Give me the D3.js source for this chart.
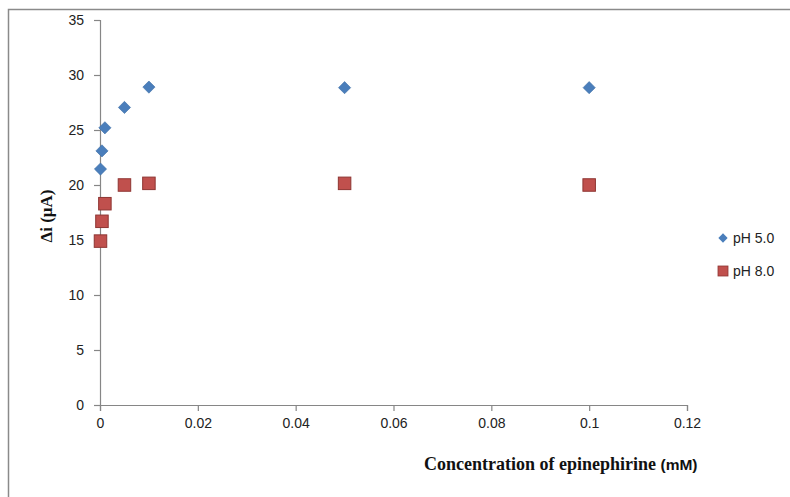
<!DOCTYPE html>
<html>
<head>
<meta charset="utf-8">
<script src="https://cdn.jsdelivr.net/npm/d3@7"></script>
<style>
  html, body { margin: 0; padding: 0; background: #fff; }
  svg { display: block; }
  .tick text { font-family: "Liberation Sans", Arial, sans-serif; font-size: 14px; fill: #222; }
</style>
</head>
<body>
<svg id="chart" width="790" height="497"></svg>
<script>
// Epinephrine concentration (mM) and current response (µA)
const concentration = [0.0001, 0.0004, 0.001, 0.005, 0.01, 0.05, 0.1];
const ph5Values = [21.45, 23.1, 25.2, 27.05, 28.9, 28.85, 28.85];
const ph8Values = [14.9, 16.7, 18.3, 20.0, 20.15, 20.15, 20.0];
const seriesNames = ["pH 5.0", "pH 8.0"];
const xTickValues = [0, 0.02, 0.04, 0.06, 0.08, 0.1, 0.12];
const yTickValues = [0, 5, 10, 15, 20, 25, 30, 35];

const svg = d3.select("#chart");

// chart frame
svg.append("path")
  .attr("d", "M8.5,497 L8.5,9.5 L790,9.5")
  .attr("fill", "none")
  .attr("stroke", "#8a8a8a")
  .attr("stroke-width", 1.5);

const x = d3.scaleLinear().domain([0, 0.12]).range([100, 687]);
const y = d3.scaleLinear().domain([0, 35]).range([405, 20]);

const axisColor = "#868686";

const xAxis = svg.append("g")
  .attr("transform", `translate(0,${y(0)})`)
  .call(d3.axisBottom(x).tickValues(xTickValues).tickSize(6).tickPadding(7)
    .tickFormat(d => String(+d.toFixed(2))));
const yAxis = svg.append("g")
  .attr("transform", `translate(${x(0)},0)`)
  .call(d3.axisLeft(y).tickValues(yTickValues).tickSize(6).tickPadding(10));

[xAxis, yAxis].forEach(g => {
  g.select(".domain").attr("stroke", axisColor).attr("stroke-width", 1.2);
  g.selectAll(".tick line").attr("stroke", axisColor).attr("stroke-width", 1.2);
});

const diamond = d3.symbol().type(d3.symbolDiamond2);
const blue = "#4A7EBB";
const red = "#C0504D";

const pts5 = concentration.map((c, i) => [c, ph5Values[i]]);
const pts8 = concentration.map((c, i) => [c, ph8Values[i]]);

// pH 5.0 series (diamonds)
svg.append("g").selectAll("path")
  .data(pts5)
  .join("path")
  .attr("transform", d => `translate(${x(d[0])},${y(d[1])})`)
  .attr("d", diamond.size(95)())
  .attr("fill", blue)
  .attr("stroke", "#3d6da5")
  .attr("stroke-width", 0.6);

// pH 8.0 series (squares)
const sq = 12.5;
svg.append("g").selectAll("rect")
  .data(pts8)
  .join("rect")
  .attr("x", d => x(d[0]) - sq / 2)
  .attr("y", d => y(d[1]) - sq / 2)
  .attr("width", sq)
  .attr("height", sq)
  .attr("fill", red)
  .attr("stroke", "#8e3532")
  .attr("stroke-width", 1);

// legend
const legend = svg.append("g");
const legendY = [238, 271];
legend.append("path")
  .attr("transform", `translate(723,${legendY[0]})`)
  .attr("d", diamond.size(55)())
  .attr("fill", blue);
legend.append("rect")
  .attr("x", 718).attr("y", legendY[1] - 5)
  .attr("width", 10).attr("height", 10)
  .attr("fill", red).attr("stroke", "#8e3532").attr("stroke-width", 0.8);
legend.selectAll("text")
  .data(seriesNames)
  .join("text")
  .attr("x", 733)
  .attr("y", (d, i) => legendY[i])
  .attr("dy", "0.36em")
  .attr("font-family", "Liberation Sans, Arial, sans-serif")
  .attr("font-size", 14)
  .attr("fill", "#222")
  .text(d => d);

// axis titles
svg.append("text")
  .attr("transform", "translate(52,216) rotate(-90)")
  .attr("text-anchor", "middle")
  .attr("font-family", "Liberation Serif, Times New Roman, serif")
  .attr("font-weight", "bold")
  .attr("font-size", 17)
  .attr("fill", "#111")
  .text("Δi (μA)");

const xt = svg.append("text")
  .attr("x", 424)
  .attr("y", 470)
  .attr("fill", "#111");
xt.append("tspan")
  .attr("font-family", "Liberation Serif, Times New Roman, serif")
  .attr("font-weight", "bold")
  .attr("font-size", 18)
  .text("Concentration of epinephirine ");
xt.append("tspan")
  .attr("font-family", "Liberation Sans, Arial, sans-serif")
  .attr("font-size", 15.5)
  .attr("font-weight", "bold")
  .text("(mM)");
</script>
</body>
</html>
